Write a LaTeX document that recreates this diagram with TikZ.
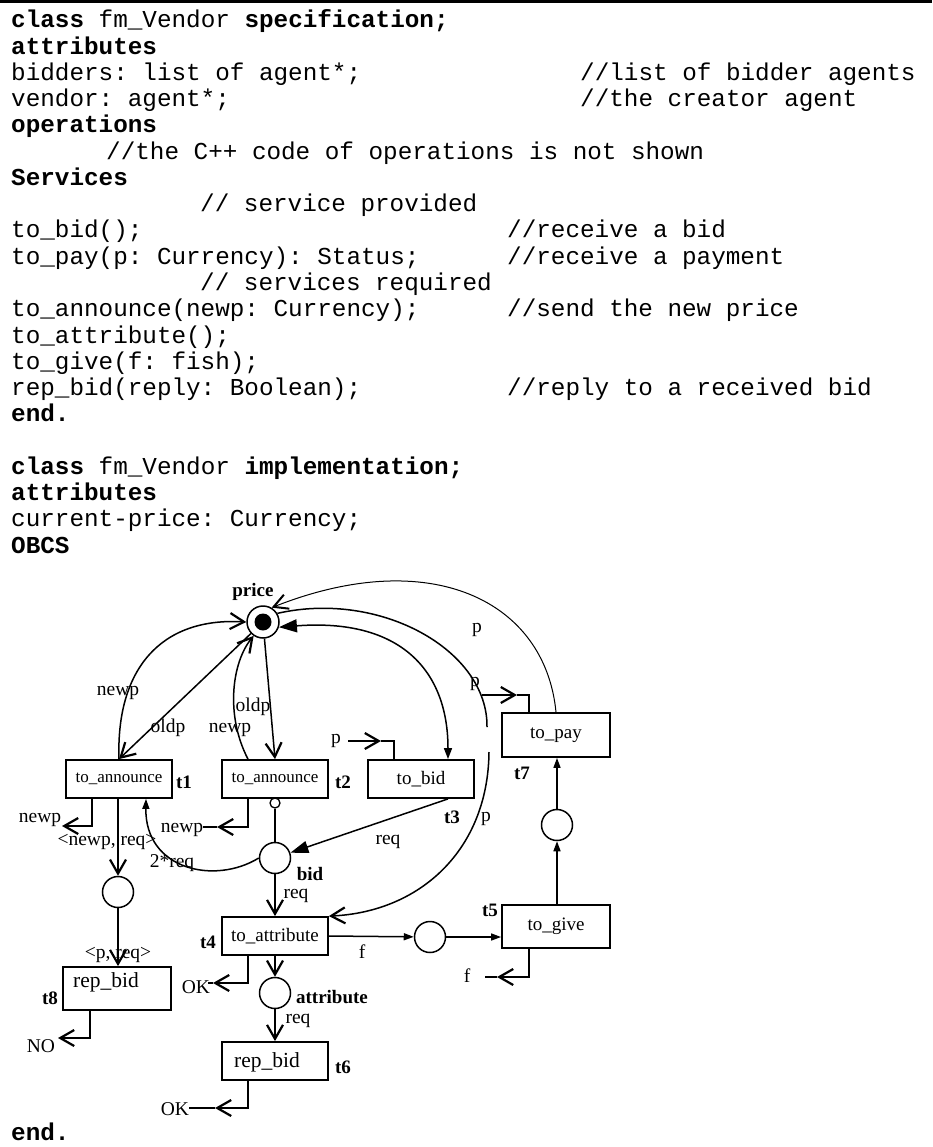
\documentclass[tikz,border=0pt]{standalone}
\usepackage{fontspec}
\setmainfont{Liberation Serif}
\newfontfamily\codefont{Liberation Mono}
\usetikzlibrary{arrows.meta}
\frenchspacing

\begin{document}
\begin{tikzpicture}[x=1pt,y=-1pt,
  code/.style={anchor=base west,inner sep=0pt,font=\codefont\fontsize{24.3}{26}\selectfont},
  trans/.style={draw,line width=1.8pt,minimum width=106pt,minimum height=38pt,inner sep=0pt,font=\fontsize{19}{21}\selectfont},
  place/.style={draw,circle,line width=1.5pt,minimum size=31pt,inner sep=0pt},
  tname/.style={inner sep=0pt,font=\bfseries\fontsize{19}{21}\selectfont},
  lab/.style={inner sep=0pt,font=\fontsize{19.5}{21}\selectfont},
  arc/.style={line width=1.5pt},
  vtip/.tip={Straight Barb[length=14pt,width=16pt,line width=2.2pt]},
  va/.style={arc,-vtip},
  ta/.style={arc,-{Triangle[length=18pt,width=12pt]}},
  sa/.style={arc,-{Triangle[length=10pt,width=7pt]}},
]
\useasboundingbox (0,0) rectangle (932,1147);
\fill (0,0) rectangle (932,3.3);

% ---------- class text ----------
\node[code] (l0)  at (11,28)     {\textbf{class} fm\_Vendor \textbf{specification;}};
\node[code] (l1)  at (11,54.25)  {\textbf{attributes}};
\node[code] (l2)  at (11,80.5)   {bidders: list of agent*;};
\node[code] (c2)  at (580,80.5)  {//list of bidder agents};
\node[code] (l3)  at (11,106.75) {vendor: agent*;};
\node[code] (c3)  at (580,106.75){//the creator agent};
\node[code] (l4)  at (11,133)    {\textbf{operations}};
\node[code] (l5)  at (106,159.25){//the C++ code of operations is not shown};
\node[code] (l6)  at (11,185.5)  {\textbf{Services}};
\node[code] (l7)  at (200,211.75){// service provided};
\node[code] (l8)  at (11,238)    {to\_bid();};
\node[code] (c8)  at (507,238)   {//receive a bid};
\node[code] (l9)  at (11,264.25) {to\_pay(p: Currency): Status;};
\node[code] (c9)  at (507,264.25){//receive a payment};
\node[code] (l10) at (200,290.5) {// services required};
\node[code] (l11) at (11,316.75) {to\_announce(newp: Currency);};
\node[code] (c11) at (507,316.75){//send the new price};
\node[code] (l12) at (11,343)    {to\_attribute();};
\node[code] (l13) at (11,369.25) {to\_give(f: fish);};
\node[code] (l14) at (11,395.5)  {rep\_bid(reply: Boolean);};
\node[code] (c14) at (507,395.5) {//reply to a received bid};
\node[code] (l15) at (11,421.75) {\textbf{end.}};
\node[code] (l17) at (11,474.25) {\textbf{class} fm\_Vendor \textbf{implementation;}};
\node[code] (l18) at (11,500.5)  {\textbf{attributes}};
\node[code] (l19) at (11,526.75) {current-price: Currency;};
\node[code] (l20) at (11,553)    {\textbf{OBCS}};
\node[code] (l21) at (11,1140)   {\textbf{end.}};

% ---------- places ----------
\node[place,minimum size=32pt] (price) at (263,622) {};
\node[circle,fill,minimum size=17pt,inner sep=0pt] (token) at (price) {};
\node[place] (bid)  at (275,858) {};
\node[place] (pa)   at (118,892) {};
\node[place] (attr) at (275,993) {};
\node[place] (pf)   at (430,937) {};
\node[place] (pp)   at (557,825) {};

% ---------- transitions ----------
\node[trans,font=\fontsize{17}{20}\selectfont] (t1) at (119,779) {to\_announce};
\node[trans,font=\fontsize{17}{20}\selectfont] (t2) at (275,779) {to\_announce};
\node[trans] (t3) at (421,779) {to\_bid};
\node[trans,minimum width=108pt,minimum height=44pt] (t7) at (556,735) {to\_pay};
\node[trans] (t4) at (275,936) {to\_attribute};
\node[trans,minimum width=108pt,minimum height=43pt] (t5) at (556,926.5) {to\_give};
\node[trans] (t6) at (275,1061) {};
\node[trans,minimum width=108pt,minimum height=43pt] (t8) at (117,988.5) {};
\node[lab,font=\fontsize{21.5}{23}\selectfont] (t6txt) at (267,1062) {rep\_bid};
\node[lab,font=\fontsize{21.5}{23}\selectfont] (t8txt) at (106,982) {rep\_bid};
\node[circle,draw,line width=1.3pt,fill=white,minimum size=10pt,inner sep=0pt] (inh) at (275,803) {};

% ---------- names ----------
\node[tname] (nprice) at (253,592) {price};
\node[tname] (n1) at (184,782) {t1};
\node[tname] (n2) at (343,782) {t2};
\node[tname] (n3) at (452,817) {t3};
\node[tname] (n7) at (522,773) {t7};
\node[tname] (n5) at (490,910) {t5};
\node[tname] (n4) at (208,942) {t4};
\node[tname] (n8) at (50,998) {t8};
\node[tname] (n6) at (343,1067) {t6};
\node[tname] (nbid) at (310,874) {bid};
\node[tname] (nattr) at (332,997) {attribute};

% ---------- arc labels ----------
\node[lab] (a1)  at (118,693) {newp};
\node[lab] (a2)  at (168,728) {oldp};
\node[lab] (a3)  at (253,707) {oldp};
\node[lab] (a4)  at (230,730) {newp};
\node[lab] (pin3) at (336,741) {p};
\node[lab] (a5)  at (477,630) {p};
\node[lab] (pin7) at (475,684) {p};
\node[lab] (a6)  at (486,819) {p};
\node[lab] (o1l) at (40,820) {newp};
\node[lab] (a7)  at (107,842) {<newp, req>};
\node[lab] (a8)  at (172,863) {2*req};
\node[lab] (o2l) at (182,830) {newp};
\node[lab] (a9)  at (388,842) {req};
\node[lab] (a10) at (296,896) {req};
\node[lab] (a11) at (362,952) {f};
\node[lab] (o5l) at (467,976) {f};
\node[lab] (a12) at (118,955) {<p, req>};
\node[lab] (o4l) at (196,987) {OK};
\node[lab] (o8l) at (41,1046) {NO};
\node[lab] (a13) at (298,1021) {req};
\node[lab] (o6l) at (175,1109) {OK};

% ---------- arcs around price ----------
\draw[va] (t1.north) .. controls (116,670) and (160,617) .. (price.west);
\draw[va] (price) -- (t1.north);
\draw[va] ([xshift=-27pt]t2.north) .. controls (225,715) and (232,662) .. (price.236);
\draw[va] (price) -- (t2.north);
\draw[arc,{Triangle[length=18pt,width=13pt]}-{Triangle[length=11pt,width=8pt]}]
  (price.342) .. controls (400,618) and (448,670) .. ([xshift=27pt]t3.north);
\coordinate (gapA) at (487,727);
\coordinate (gapB) at (489,752);
\draw[arc] (price.31) .. controls (380,590) and (488,650) .. (gapA);
\draw[va] (gapB) .. controls (488,850) and (420,912) .. (t4.north east);
\draw[line width=1pt,-{Straight Barb[length=14pt,width=15pt,line width=2pt]}]
  (t7.north) .. controls (545,600) and (430,545) .. (price.59);

% ---------- inputs from outside ----------
\coordinate (k3) at (381,741);
\coordinate (c3) at (394,741);
\draw[va] ([xshift=7pt]pin3.east) -- (k3);
\draw[arc] (k3) -- (c3) -- (c3 |- t3.north);
\coordinate (k7) at (517,695);
\coordinate (c7) at (529,695);
\draw[va] (482,695) -- (k7);
\draw[arc] (k7) -- (c7) -- (c7 |- t7.north);

% ---------- outputs ----------
\coordinate (e1) at (92,826);
\coordinate (tip1) at (62,826);
\draw[va] (e1 |- t1.south) -- (e1) -- (tip1);
\coordinate (e2) at (248,827);
\coordinate (tip2) at (217,827);
\draw[va] (e2 |- t2.south) -- (e2) -- (tip2);
\draw[arc] (tip2) -- (o2l.east |- tip2);
\coordinate (e4) at (248,983);
\coordinate (tip4) at (213,983);
\draw[va] (e4 |- t4.south) -- (e4) -- (tip4);
\draw[arc] (tip4) -- (208,983);
\coordinate (e8) at (90,1038);
\coordinate (tip8) at (58,1038);
\draw[va] (e8 |- t8.south) -- (e8) -- (tip8);
\coordinate (e6) at (248,1108);
\coordinate (tip6) at (215,1108);
\draw[va] (e6 |- t6.south) -- (e6) -- (tip6);
\draw[arc] (tip6) -- (o6l.east |- tip6);
\coordinate (e5) at (529,977);
\coordinate (tip5) at (497,977);
\draw[va] (e5 |- t5.south) -- (e5) -- (tip5);
\draw[arc] (tip5) -- (485,977);

% ---------- internal arcs ----------
\draw[va] (t1.south -| pa) -- (pa);
\draw[va] (pa) -- (pa |- t8.north);
\draw[sa] (bid.west) .. controls (215,885) and (145,870) .. ([xshift=27pt]t1.south);
\draw[arc] (bid) -- (inh);
\draw[ta] ([xshift=27pt]t3.south) -- (bid);
\draw[va] (bid) -- (t4.north);
\draw[va] (t4.south) -- (attr);
\draw[va] (attr) -- (t6.north);
\draw[sa] (t4.east) -- (pf);
\draw[sa] (pf) -- (t5.west |- pf);
\draw[sa] (pp |- t5.north) -- (pp);
\draw[sa] (pp) -- (pp |- t7.south);
\end{tikzpicture}
\end{document}
